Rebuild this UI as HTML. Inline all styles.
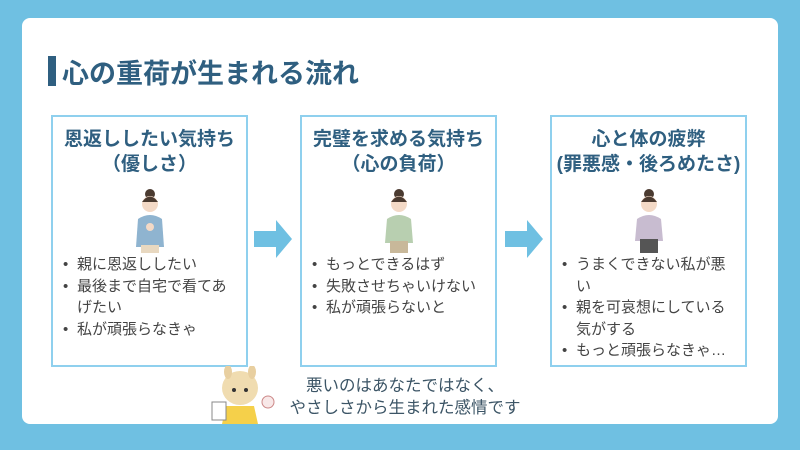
<!DOCTYPE html><html><head><meta charset="utf-8"><style>
*{margin:0;padding:0;box-sizing:border-box}
body{width:800px;height:450px;background:#6fc0e2;font-family:"Liberation Sans","Noto Sans CJK JP",sans-serif;position:relative;overflow:hidden}
.card{position:absolute;left:22px;top:18px;width:756px;height:406px;background:#fff;border-radius:8px}
.bar{position:absolute;left:48px;top:56px;width:8px;height:30px;background:#2f5f80}
.title{position:absolute;left:62px;top:52px;font-size:27px;font-weight:bold;color:#2f5f80;white-space:nowrap}
.box{position:absolute;top:115px;width:197px;height:252px;border:2px solid #8fd0ee;background:#fff}
.h{position:absolute;top:10px;left:0;width:100%;text-align:center;font-size:19px;font-weight:bold;color:#2f5f80;line-height:25px;white-space:nowrap}
ul{position:absolute;left:8px;top:137px;right:10px;list-style:none;font-size:15px;color:#444;line-height:21.5px}
li{padding-left:16px;position:relative}
li:before{content:"•";position:absolute;left:2px}
.arrow{position:absolute;top:220px}
.fig{position:absolute;left:50%;top:70px;transform:translateX(-50%)}
.msg{position:absolute;left:270px;top:375px;width:270px;text-align:center;font-size:16.5px;color:#3c5566;line-height:22px}
</style></head><body>
<div class="card"></div>
<div class="bar"></div><div class="title">心の重荷が生まれる流れ</div>

<div class="box" style="left:51px"><div class="h">恩返ししたい気持ち<br>（優しさ）</div>
<svg class="fig" width="40" height="66"><circle cx="20" cy="7" r="5" fill="#4a3a30"/><circle cx="20" cy="17" r="8" fill="#f3d9c6"/><path d="M12 15 Q20 4 28 15" fill="#4a3a30"/><path d="M6 60 L8 32 Q20 24 32 32 L34 60Z" fill="#8fb4d0"/><circle cx="20" cy="40" r="4" fill="#f3d9c6"/><rect x="11" y="58" width="18" height="8" fill="#e8d8c0"/></svg>
<ul><li>親に恩返ししたい</li><li>最後まで自宅で看てあげたい</li><li>私が頑張らなきゃ</li></ul></div>

<svg class="arrow" style="left:254px" width="40" height="38"><polygon points="0,11 22,11 22,0 38,19 22,38 22,27 0,27" fill="#6fc0e2"/></svg>

<div class="box" style="left:300px"><div class="h">完璧を求める気持ち<br>（心の負荷）</div>
<svg class="fig" width="40" height="66"><circle cx="20" cy="7" r="5" fill="#4a3a30"/><circle cx="20" cy="17" r="8" fill="#f3d9c6"/><path d="M12 15 Q20 4 28 15" fill="#4a3a30"/><path d="M6 56 L8 32 Q20 24 32 32 L34 56Z" fill="#b8cfb0"/><rect x="11" y="54" width="18" height="12" fill="#c8b89a"/></svg>
<ul><li>もっとできるはず</li><li>失敗させちゃいけない</li><li>私が頑張らないと</li></ul></div>

<svg class="arrow" style="left:505px" width="40" height="38"><polygon points="0,11 22,11 22,0 38,19 22,38 22,27 0,27" fill="#6fc0e2"/></svg>

<div class="box" style="left:550px"><div class="h">心と体の疲弊<br>(罪悪感・後ろめたさ)</div>
<svg class="fig" width="40" height="66"><circle cx="20" cy="7" r="5" fill="#4a3a30"/><circle cx="20" cy="17" r="8" fill="#f3d9c6"/><path d="M12 15 Q20 4 28 15" fill="#4a3a30"/><path d="M6 54 L8 32 Q20 24 32 32 L34 54Z" fill="#c8bcd0"/><rect x="11" y="52" width="18" height="14" fill="#555"/></svg>
<ul><li>うまくできない私が悪い</li><li>親を可哀想にしている気がする</li><li>もっと頑張らなきゃ…</li></ul></div>

<svg style="position:absolute;left:208px;top:366px" width="70" height="62"><ellipse cx="32" cy="22" rx="18" ry="17" fill="#f0dcb0"/><ellipse cx="20" cy="6" rx="4" ry="7" fill="#e8cfa0"/><ellipse cx="44" cy="6" rx="4" ry="7" fill="#e8cfa0"/><circle cx="26" cy="24" r="2" fill="#333"/><circle cx="38" cy="24" r="2" fill="#333"/><path d="M18 40 L46 40 L50 58 L14 58Z" fill="#f5d04a"/><rect x="4" y="36" width="14" height="18" fill="#fff" stroke="#888"/><circle cx="60" cy="36" r="6" fill="#f8e8e8" stroke="#c88"/></svg>
<div class="msg">悪いのはあなたではなく、<br>やさしさから生まれた感情です</div>
</body></html>
